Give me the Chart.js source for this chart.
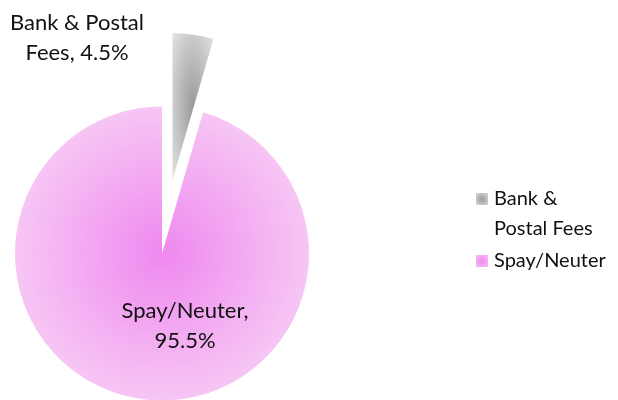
<!DOCTYPE html>
<html><head><meta charset="utf-8">
<script src="https://cdn.jsdelivr.net/npm/chart.js@4.4.1/dist/chart.umd.min.js"></script>
<style>html,body{margin:0;padding:0;background:#fff}#wrap{width:618px;height:400px;position:relative}canvas{display:block}</style>
</head><body><div id="wrap"><canvas id="c" width="618" height="400"></canvas></div>
<script>
// ---- data ----
const categories = ["Bank & Postal Fees", "Spay/Neuter"];
const values = [4.5, 95.5];

// ---- style ----
const FONT = 'Lato, "Open Sans", sans-serif';
const LABEL_SIZE = 22;
const LEGEND_SIZE = 20;
const TEXT_COLOR = '#111';
const PIE_RADIUS = 147;
const EXPLODE = [74, 0];
const GRAD = [
  {inner: '#9a9a9a', outer: '#e2e2e2', reach: 1.4},
  {inner: '#ef88ef', outer: '#f6c6f4', reach: 1.0}
];

const total = values.reduce((a, b) => a + b, 0);
const pct = v => (v / total * 100).toFixed(1) + '%';

function sliceGeom(chart, i) {
  const a = chart.chartArea;
  const cx = (a.left + a.right) / 2, cy = (a.top + a.bottom) / 2;
  let start = -Math.PI / 2;
  for (let k = 0; k < i; k++) start += values[k] / total * 2 * Math.PI;
  const end = start + values[i] / total * 2 * Math.PI;
  const mid = (start + end) / 2;
  const d = EXPLODE[i] || 0;
  const tx = cx + Math.cos(mid) * d, ty = cy + Math.sin(mid) * d;
  const r = PIE_RADIUS;
  const pts = [[tx, ty], [tx + r * Math.cos(start), ty + r * Math.sin(start)], [tx + r * Math.cos(end), ty + r * Math.sin(end)]];
  for (let q = -4; q <= 8; q++) {
    const ang = q * Math.PI / 2;
    if (ang > start && ang < end) pts.push([tx + r * Math.cos(ang), ty + r * Math.sin(ang)]);
  }
  const xs = pts.map(p => p[0]), ys = pts.map(p => p[1]);
  const x0 = Math.min(...xs), x1 = Math.max(...xs), y0 = Math.min(...ys), y1 = Math.max(...ys);
  return {cx, cy, tx, ty, bx: (x0 + x1) / 2, by: (y0 + y1) / 2, hw: Math.max((x1 - x0) / 2, 1), hh: Math.max((y1 - y0) / 2, 1)};
}

function ellipsePattern(ctx, W, H, bx, by, rx, ry, g) {
  const off = document.createElement('canvas');
  off.width = W; off.height = H;
  const o = off.getContext('2d');
  o.setTransform(rx * g.reach, 0, 0, ry * g.reach, bx, by);
  const grd = o.createRadialGradient(0, 0, 0, 0, 0, 1);
  grd.addColorStop(0, g.inner);
  grd.addColorStop(1, g.outer);
  o.fillStyle = grd;
  o.fillRect(-bx / (rx * g.reach) - 1, -by / (ry * g.reach) - 1, W / (rx * g.reach) + 2, H / (ry * g.reach) + 2);
  return ctx.createPattern(off, 'no-repeat');
}

const patCache = {};
function sliceFill(c) {
  const chart = c.chart, i = c.dataIndex;
  if (!chart.chartArea) return GRAD[i].inner;
  const g = sliceGeom(chart, i);
  const key = i + ':' + g.bx + ':' + g.by + ':' + chart.width + 'x' + chart.height;
  if (!patCache[key]) patCache[key] = ellipsePattern(chart.ctx, chart.width, chart.height, g.bx, g.by, g.hw, g.hh, GRAD[i]);
  return patCache[key];
}

function wrap(ctx, text, maxW) {
  const words = text.split(' ');
  const lines = [];
  let cur = '';
  for (const w of words) {
    const t = cur ? cur + ' ' + w : w;
    if (cur && ctx.measureText(t).width > maxW) { lines.push(cur); cur = w; } else cur = t;
  }
  if (cur) lines.push(cur);
  return lines;
}

const explodePlugin = {
  id: 'explode',
  afterDatasetUpdate(chart, args) {
    args.meta.data.forEach((arc, i) => {
      const d = EXPLODE[i] || 0;
      if (!d) return;
      const mid = (arc.startAngle + arc.endAngle) / 2;
      arc.x += Math.cos(mid) * d;
      arc.y += Math.sin(mid) * d;
    });
  }
};

// label anchors: offset of first baseline from pie centre
const LABEL_ANCHOR = [{dx: -85, dy: -224}, {dx: 23, dy: 64.5}];
const labelPlugin = {
  id: 'sliceLabels',
  afterDatasetsDraw(chart) {
    const ctx = chart.ctx;
    const a = chart.chartArea;
    const cx = (a.left + a.right) / 2, cy = (a.top + a.bottom) / 2;
    ctx.save();
    ctx.font = LABEL_SIZE + 'px ' + FONT;
    ctx.fillStyle = TEXT_COLOR;
    ctx.textAlign = 'center';
    ctx.textBaseline = 'alphabetic';
    categories.forEach((cat, i) => {
      const lines = wrap(ctx, cat + ', ' + pct(values[i]), 140);
      lines.forEach((ln, k) => ctx.fillText(ln, cx + LABEL_ANCHOR[i].dx, cy + LABEL_ANCHOR[i].dy + k * 30));
    });
    ctx.restore();
  }
};

const legendPlugin = {
  id: 'sideLegend',
  afterDraw(chart) {
    const ctx = chart.ctx;
    ctx.save();
    ctx.font = LEGEND_SIZE + 'px ' + FONT;
    ctx.textAlign = 'left';
    ctx.textBaseline = 'alphabetic';
    let y = 205;
    categories.forEach((cat, i) => {
      const sq = 12, sx = 476, sy = y - 12;
      const grd = ctx.createRadialGradient(sx + sq / 2, sy + sq / 2, 0, sx + sq / 2, sy + sq / 2, sq * 0.8);
      grd.addColorStop(0, GRAD[i].inner);
      grd.addColorStop(1, GRAD[i].outer);
      ctx.fillStyle = grd;
      ctx.fillRect(sx, sy, sq, sq);
      ctx.fillStyle = TEXT_COLOR;
      const lines = wrap(ctx, cat, 115);
      lines.forEach((ln, k) => ctx.fillText(ln, 494, y + k * 30));
      y += lines.length * 30 + 2;
    });
    ctx.restore();
  }
};

new Chart(document.getElementById('c'), {
  type: 'pie',
  data: {
    labels: categories,
    datasets: [{
      data: values,
      backgroundColor: sliceFill,
      borderWidth: 0,
      clip: false
    }]
  },
  options: {
    responsive: false,
    animation: false,
    events: [],
    radius: PIE_RADIUS,
    layout: {padding: {left: 0, right: 294, top: 107, bottom: 0}},
    plugins: {legend: {display: false}, tooltip: {enabled: false}}
  },
  plugins: [explodePlugin, labelPlugin, legendPlugin]
});
</script>
</body></html>
